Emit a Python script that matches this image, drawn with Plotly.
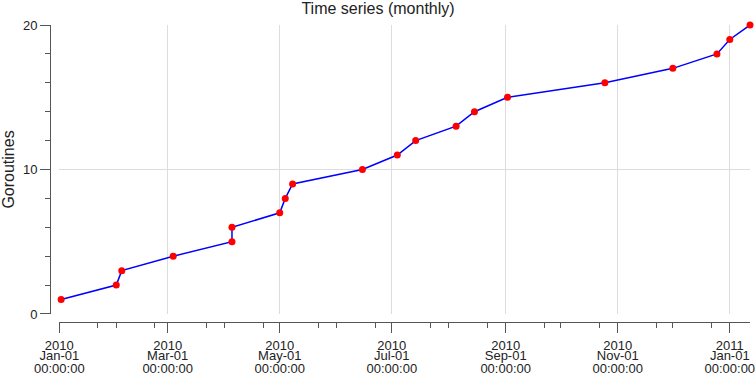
import plotly.graph_objects as go

# ---- data ----
dates = ["2010-01-02", "2010-02-01", "2010-02-04", "2010-03-04", "2010-04-05",
         "2010-04-05", "2010-05-01", "2010-05-04", "2010-05-08", "2010-06-15",
         "2010-07-04", "2010-07-14", "2010-08-05", "2010-08-15", "2010-09-02",
         "2010-10-25", "2010-12-01", "2010-12-25", "2011-01-01", "2011-01-12"]
goroutines = [1, 2, 3, 4, 5, 6, 7, 8, 9, 10,
              11, 12, 13, 14, 15, 16, 17, 18, 19, 20]

major_tick_dates = ["2010-01-01", "2010-03-01", "2010-05-01", "2010-07-01",
                    "2010-09-01", "2010-11-01", "2011-01-01"]
tick_years = ["2010", "2010", "2010", "2010", "2010", "2010", "2011"]
tick_days = ["Jan-01", "Mar-01", "May-01", "Jul-01", "Sep-01", "Nov-01", "Jan-01"]
tick_times = ["00:00:00"] * 7

minor_tick_dates = ["2010-01-22", "2010-02-01", "2010-02-22", "2010-03-22",
                    "2010-04-01", "2010-04-22", "2010-05-22", "2010-06-01",
                    "2010-06-22", "2010-07-22", "2010-08-01", "2010-08-22",
                    "2010-09-22", "2010-10-01", "2010-10-22", "2010-11-22",
                    "2010-12-01", "2010-12-22"]

y_major = [0, 10, 20]
x_range = ["2010-01-01", "2011-01-12"]
y_range = [0, 20]

FONT = "Liberation Sans, Arial, sans-serif"
AXIS_COLOR = "#555555"
GRID_COLOR = "#dddddd"
TEXT_COLOR = "#222222"

fig = go.Figure()
fig.add_trace(go.Scatter(
    x=dates, y=goroutines, mode="lines+markers",
    line=dict(color="#0000ff", width=1.5),
    marker=dict(color="#ff0000", size=7),
    showlegend=False, hoverinfo="x+y", cliponaxis=False))
# invisible helpers so the extra label axes are drawn
for ax in ("x2", "x3"):
    fig.add_trace(go.Scatter(x=dates, y=goroutines, mode="none", xaxis=ax,
                             yaxis="y", showlegend=False, hoverinfo="skip"))

X0 = 0.0133
Y0 = 0.027

fig.update_layout(
    template="none",
    width=756, height=378,
    margin=dict(l=50, r=6, t=25, b=56, pad=0),
    paper_bgcolor="white", plot_bgcolor="white",
    font=dict(family=FONT, size=13, color=TEXT_COLOR),
    title=dict(text="Time series (monthly)", x=0.5, xref="container",
               xanchor="center", y=0.992, yref="container", yanchor="top",
               font=dict(size=16, color=TEXT_COLOR)),
    xaxis=dict(
        type="date", domain=[X0, 1], range=x_range, anchor="free", position=0,
        automargin=False,
        showgrid=True, gridcolor=GRID_COLOR, gridwidth=1, zeroline=False,
        showline=True, linecolor=AXIS_COLOR, linewidth=1,
        tickmode="array", tickvals=major_tick_dates, ticktext=tick_years,
        ticks="outside", ticklen=10, tickcolor=AXIS_COLOR, tickwidth=1,
        tickangle=0, ticklabelstandoff=1,
        minor=dict(tickmode="array", tickvals=minor_tick_dates, ticks="outside",
                   ticklen=5, tickcolor=AXIS_COLOR, tickwidth=1, showgrid=False),
    ),
    xaxis2=dict(
        type="date", overlaying="x", range=x_range, anchor="free", position=0,
        automargin=False,
        showgrid=False, zeroline=False, showline=False,
        tickmode="array", tickvals=major_tick_dates, ticktext=tick_days,
        ticks="", ticklabelstandoff=24, tickangle=0,
    ),
    xaxis3=dict(
        type="date", overlaying="x", range=x_range, anchor="free", position=0,
        automargin=False,
        showgrid=False, zeroline=False, showline=False,
        tickmode="array", tickvals=major_tick_dates, ticktext=tick_times,
        ticks="", ticklabelstandoff=37, tickangle=0,
    ),
    yaxis=dict(
        domain=[Y0, 1], range=y_range, anchor="free", position=0,
        automargin=False,
        showgrid=True, gridcolor=GRID_COLOR, gridwidth=1, zeroline=False,
        showline=True, linecolor=AXIS_COLOR, linewidth=1,
        tickmode="array", tickvals=y_major,
        ticks="outside", ticklen=10, tickcolor=AXIS_COLOR, tickwidth=1,
        minor=dict(dtick=2, ticks="outside", ticklen=5, tickcolor=AXIS_COLOR,
                   tickwidth=1, showgrid=False),
        title=dict(text="Goroutines", standoff=4,
                   font=dict(size=16, color=TEXT_COLOR)),
    ),
)

fig.write_html(
    "out.html",
    config={"displayModeBar": False},
    post_script="document.body.style.margin='0';document.body.style.padding='0';",
)
